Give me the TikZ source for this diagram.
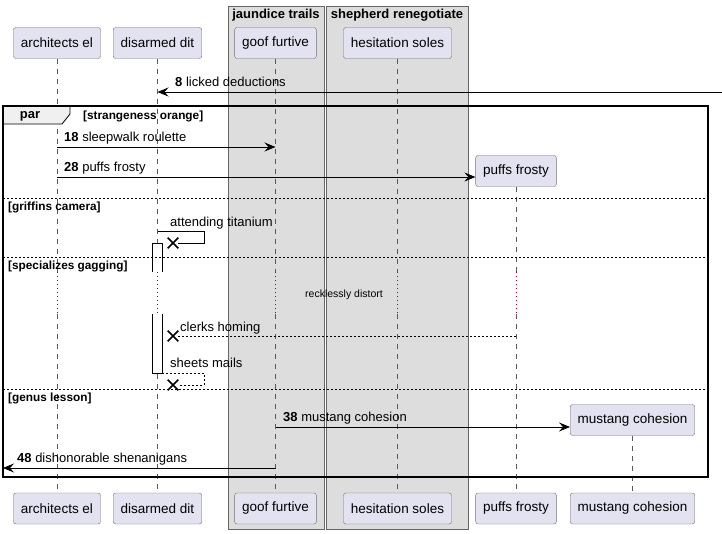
\documentclass[tikz,border=0pt]{standalone}
\usepackage{fontspec}
\setmainfont{Liberation Sans}
\usepackage{tikz}
\usetikzlibrary{calc,positioning,arrows.meta,shapes.misc}
\definecolor{partfill}{HTML}{E2E2F0}
\definecolor{boxfill}{HTML}{DDDDDD}
\definecolor{delaycol}{HTML}{990033}

\begin{document}
\begin{tikzpicture}[x=1pt,y=-1pt,
  part/.style={draw=gray!90!black,fill=partfill,rounded corners=2.5pt,minimum height=31pt,inner xsep=7.5pt,font=\fontsize{13.5}{16}\selectfont},
  life/.style={gray!70!black,line width=0.6pt,dash pattern=on 5pt off 5pt},
  delay/.style={delaycol,line width=0.7pt,dash pattern=on 1pt off 3pt},
  msg/.style={-{Stealth[length=11pt,width=9pt,inset=4pt]},line width=0.8pt},
  reply/.style={line width=0.8pt,dash pattern=on 2pt off 2pt},
  lbl/.style={anchor=base west,inner sep=0pt,font=\fontsize{13}{15}\selectfont},
  sep/.style={line width=0.7pt,dash pattern=on 2pt off 2pt},
  guard/.style={anchor=north west,inner sep=0pt,font=\bfseries\fontsize{11.8}{14}\selectfont},
  grp/.style={draw=gray!80!black,fill=boxfill,line width=0.8pt},
  grptitle/.style={font=\bfseries\fontsize{13}{15}\selectfont,inner sep=0pt},
  kill/.style={draw,cross out,minimum size=9pt,inner sep=0pt,line width=1.6pt}]
                      \useasboundingbox (0,0) rectangle (722,534);

                      \draw[grp] (228,6) rectangle (324,529);
                      \draw[grp] (326,6) rectangle (468,529);
                      \node[grptitle] (gjt) at (276,15) {jaundice trails};
                      \node[grptitle] (gsr) at (397,15) {shepherd renegotiate};

                      \node[part] (aeT) at (57,43) {architects el};
                      \node[part] (ddT) at (157.5,43) {disarmed dit};
                      \node[part] (gfT) at (275.5,43) {goof furtive};
                      \node[part] (hsT) at (397.5,43) {hesitation soles};
                      \node[part] (pfT) at (516,171) {puffs frosty};
                      \node[part] (mcT) at (632.5,420) {mustang cohesion};

                      \node[part] (aeB) at (57,508.5) {architects el};
                      \node[part] (ddB) at (157.5,508.5) {disarmed dit};
                      \node[part] (gfB) at (275.5,508.5) {goof furtive};
                      \node[part] (hsB) at (397.5,508.5) {hesitation soles};
                      \node[part] (pfB) at (516,508.5) {puffs frosty};
                      \node[part] (mcB) at (632.5,508.5) {mustang cohesion};

                      \coordinate (dly1) at (0,272);
                      \coordinate (dly2) at (0,314);
                      \foreach \t/\b in {aeT/aeB,ddT/ddB,gfT/gfB,hsT/hsB,pfT/pfB} {
                        \draw[life] (\t.south) -- (\t |- dly1);
                        \draw[delay] (\t |- dly1) -- (\t |- dly2);
                        \draw[life] (\t |- dly2) -- (\b.north);
                      }
                      \draw[life] (mcT.south) -- (mcB.north);

                      \draw[fill=gray!12,line width=0.8pt] (3,106) -- (70,106) -- (70,114) -- (62,124) -- (3,124) -- cycle;
                      \draw[line width=1.5pt] (3,106) rectangle (708,477);
                      \node[font=\bfseries\fontsize{13}{15}\selectfont] (partab) at (30,116) {par};
                      \node[guard,anchor=west] (g1) at (83,116) {[strangeness orange]};

                      \coordinate (src8) at (722,92);
                      \draw[msg] (src8) -- (ddT |- src8);
                      \node[lbl] (l8) at (175,86.5) {\textbf{8} licked deductions};

                      \coordinate (m18) at (0,147);
                      \draw[msg] (aeT |- m18) -- (gfT |- m18);
                      \node[lbl] (l18) at (64,141.5) {\textbf{18} sleepwalk roulette};

                      \coordinate (m28) at (0,177);
                      \draw[msg] (aeT |- m28) -- (pfT.west |- m28);
                      \node[lbl] (l28) at (64,171.5) {\textbf{28} puffs frosty};

                      \fill[white] (152,243) rectangle (162,272);
                      \draw[line width=0.8pt] (152,272) -- (152,243) -- (162,243) -- (162,272);
                      \fill[white] (152,314) rectangle (162,373);
                      \draw[line width=0.8pt] (152,314) -- (152,373) -- (162,373) -- (162,314);

                      \draw[sep] (3,198) -- (708,198);
                      \node[guard] (g2) at (8,201.5) {[griffins camera]};
                      \draw[sep] (3,257) -- (708,257);
                      \node[guard] (g3) at (8,260.5) {[specializes gagging]};
                      \draw[sep] (3,389) -- (708,389);
                      \node[guard] (g4) at (8,392.5) {[genus lesson]};

                      \coordinate (mat) at (0,231);
                      \node[kill] (xat) at (173,243) {};
                      \draw[line width=0.8pt] (ddT |- mat) -- ++(47,0) |- (xat);
                      \node[lbl] (lat) at (170,226.5) {attending titanium};

                      \node[font=\fontsize{10.5}{12}\selectfont] (dtxt) at (344,294.5) {recklessly distort};

                      \coordinate (mch) at (0,336);
                      \node[kill] (xch) at (173,336) {};
                      \draw[reply] (pfT |- mch) -- (xch);
                      \node[lbl] (lch) at (180,331.5) {clerks homing};

                      \coordinate (actend) at (162,373);
                      \node[kill] (xsm) at (173,385) {};
                      \draw[reply] (actend) -- ++(42,0) |- (xsm);
                      \node[lbl] (lsm) at (170,367) {sheets mails};

                      \coordinate (m38) at (0,427);
                      \draw[msg] (gfT |- m38) -- (mcT.west |- m38);
                      \node[lbl] (l38) at (283,421.5) {\textbf{38} mustang cohesion};

                      \coordinate (dst48) at (3,468);
                      \draw[msg] (gfT |- dst48) -- (dst48);
                      \node[lbl] (l48) at (17,462.5) {\textbf{48} dishonorable shenanigans};
                    \end{tikzpicture}
\end{document}
